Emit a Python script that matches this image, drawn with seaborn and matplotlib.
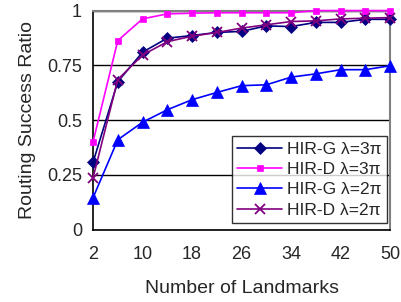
import matplotlib
matplotlib.use("Agg")
import matplotlib.pyplot as plt
import seaborn as sns
import pandas as pd

sns.set_style("white")
plt.rcParams['font.family'] = ['Liberation Sans', 'DejaVu Sans']

landmarks = [2, 6, 10, 14, 18, 22, 26, 30, 34, 38, 42, 46, 50]
hir_g_3pi = [0.307, 0.675, 0.81, 0.874, 0.886, 0.90, 0.905, 0.93, 0.927, 0.946, 0.946, 0.96, 0.96]
hir_d_3pi = [0.40, 0.863, 0.962, 0.985, 0.988, 0.99, 0.99, 0.99, 0.99, 1.0, 1.0, 1.0, 1.0]
hir_g_2pi = [0.145, 0.41, 0.49, 0.547, 0.593, 0.626, 0.657, 0.661, 0.696, 0.711, 0.73, 0.73, 0.748]
hir_d_2pi = [0.236, 0.685, 0.797, 0.858, 0.883, 0.90, 0.92, 0.935, 0.95, 0.953, 0.962, 0.965, 0.968]

series = [
    ("HIR-G λ=3π", hir_g_3pi, "#000080", "D", 6),
    ("HIR-D λ=3π", hir_d_3pi, "#FF00FF", "s", 4.5),
    ("HIR-G λ=2π", hir_g_2pi, "#0000FF", "^", 8),
    ("HIR-D λ=2π", hir_d_2pi, "#800080", "x", 7),
]

fig = plt.figure(figsize=(4.01, 3.02), dpi=100)
ax = fig.add_axes([0.232, 0.240, 0.741, 0.725])

for label, vals, color, marker, ms in series:
    df = pd.DataFrame({"x": landmarks, "y": vals})
    sns.lineplot(data=df, x="x", y="y", ax=ax, color=color, marker=marker,
                 markersize=ms, markeredgecolor=color, markeredgewidth=1.3 if marker == "x" else 0.5,
                 linewidth=1.2, label=label, clip_on=False, zorder=3)

ax.set_xlim(2, 50)
ax.set_ylim(0, 1)
ax.set_xticks([2, 10, 18, 26, 34, 42, 50])
ax.set_yticks([0, 0.25, 0.5, 0.75, 1])
ax.set_yticklabels(["0", "0.25", "0.5", "0.75", "1"])
ax.yaxis.grid(True, color="black", linewidth=1)
ax.xaxis.grid(False)
ax.tick_params(axis="x", direction="in", length=4, width=1, color="black", labelsize=13, pad=12)
ax.tick_params(axis="y", length=0, labelsize=13, pad=8)
for side in ["left", "bottom"]:
    ax.spines[side].set_color("black")
    ax.spines[side].set_linewidth(1.2)
for side in ["top", "right"]:
    ax.spines[side].set_color("#808080")
    ax.spines[side].set_linewidth(1.5)

ax.set_xlabel("Number of Landmarks", fontsize=14, labelpad=12)
ax.set_ylabel("Routing Success Ratio", fontsize=14, labelpad=8)

leg = ax.legend(loc="lower right", bbox_to_anchor=(0.99, 0.03), fontsize=12.5, frameon=True,
                fancybox=False, edgecolor="black", handlelength=2.6, borderpad=0.3,
                labelspacing=0.3, handletextpad=0.3, borderaxespad=0)
leg.get_frame().set_linewidth(1)

fig.savefig("out.png", dpi=100)
